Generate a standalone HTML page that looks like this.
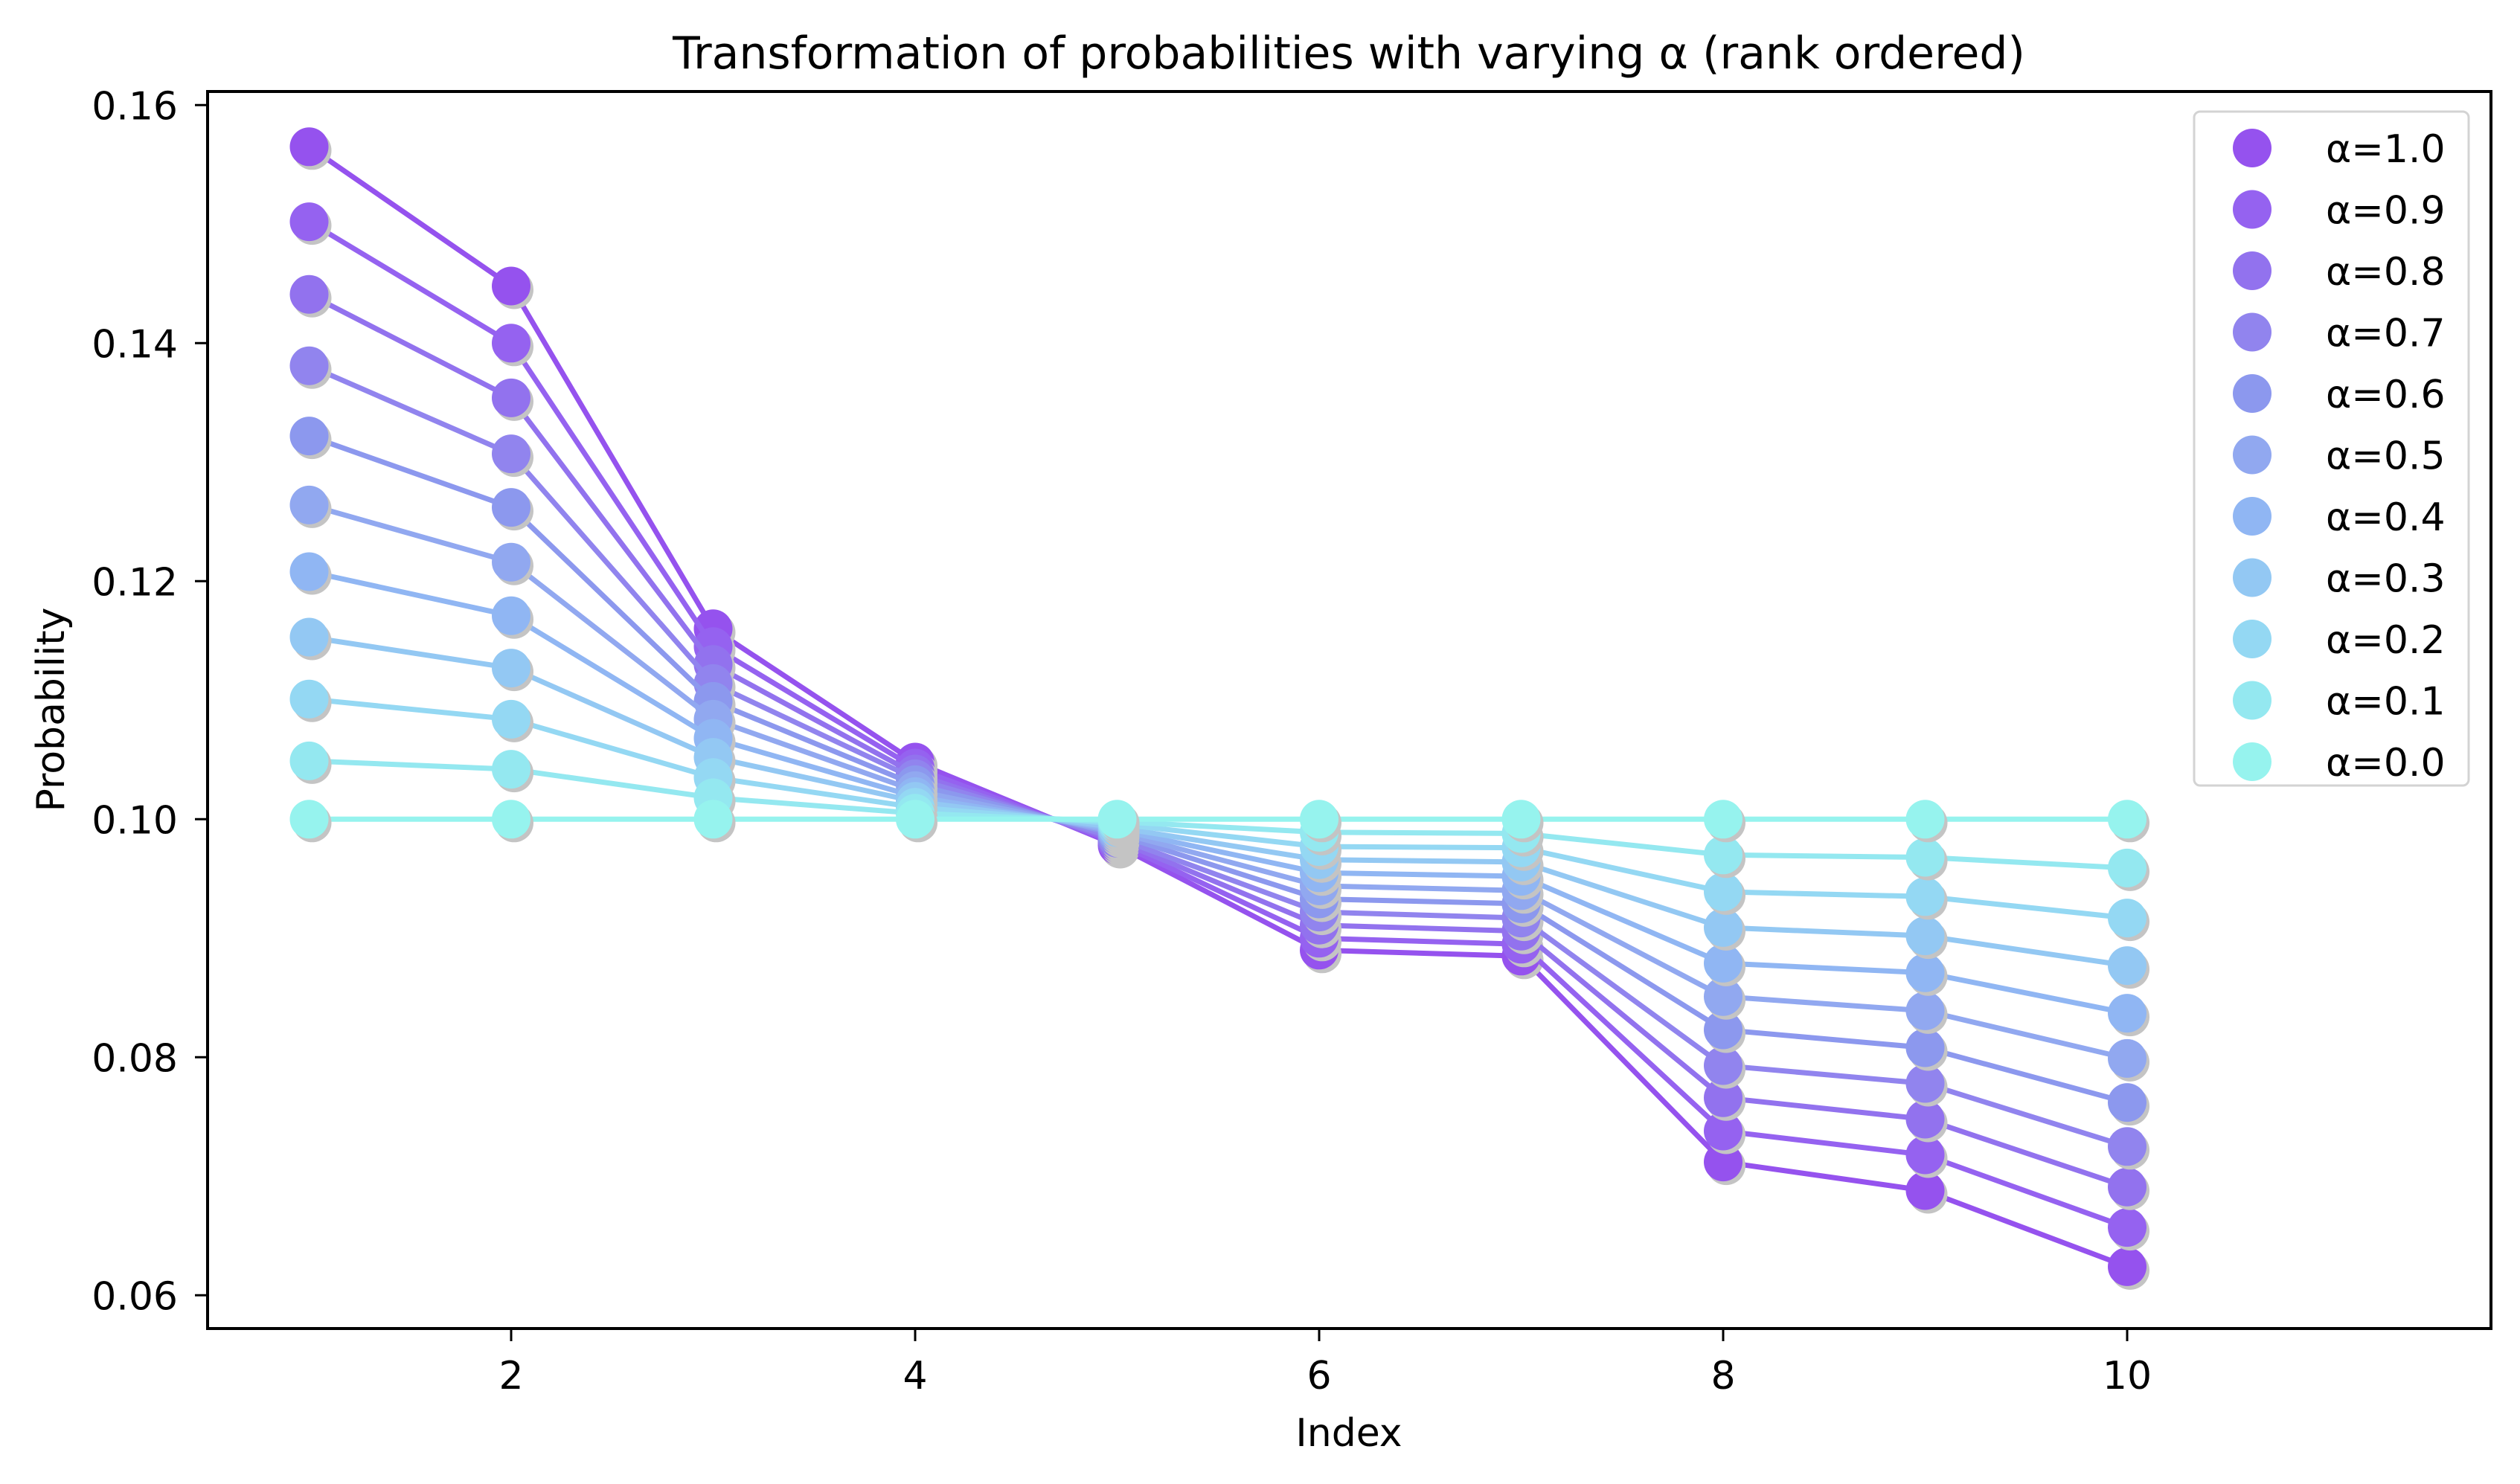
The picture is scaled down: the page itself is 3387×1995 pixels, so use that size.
<!DOCTYPE html>
<html><head><meta charset="utf-8"><style>
html,body{margin:0;padding:0;background:#fff;}
svg{display:block;font-family:"DejaVu Sans","Liberation Sans",sans-serif;}
</style></head><body>
<svg id="chart" width="3387" height="1995" viewBox="0 0 3387 1995" xmlns="http://www.w3.org/2000/svg">
<rect x="0" y="0" width="3387" height="1995" fill="#fff"/>
<text x="1813" y="92" font-size="60" text-anchor="middle">Transformation of probabilities with varying α (rank ordered)</text>
<g id="plot"></g>
<rect x="279" y="123" width="3069" height="1663" fill="none" stroke="#000" stroke-width="4"/>
<g id="axes"></g>
<text x="1813" y="1944" font-size="52" text-anchor="middle">Index</text>
<text x="0" y="0" font-size="52" text-anchor="middle" transform="translate(86,954) rotate(-90)">Probability</text>
<g id="legend"></g>
</svg>
<script>
const indices = [1,2,3,4,5,6,7,8,9,10];
const alphas = ["1.0","0.9","0.8","0.7","0.6","0.5","0.4","0.3","0.2","0.1","0.0"];
const s10 = [0.1565,0.1448,0.1160,0.1048,0.0978,0.0890,0.0885,0.0712,0.0688,0.0624];
const s09 = [0.1502,0.1400,0.1145,0.1043,0.0980,0.0900,0.0895,0.0738,0.0718,0.0657];
const s08 = [0.1441,0.1354,0.1130,0.1038,0.0982,0.0911,0.0906,0.0766,0.0748,0.0691];
const s07 = [0.1381,0.1307,0.1114,0.1034,0.0984,0.0922,0.0917,0.0793,0.0778,0.0725];
const s06 = [0.1322,0.1262,0.1099,0.1029,0.0987,0.0933,0.0929,0.0823,0.0808,0.0762];
const s05 = [0.1264,0.1216,0.1084,0.1024,0.0989,0.0944,0.0940,0.0851,0.0839,0.0799];
const s04 = [0.1208,0.1171,0.1068,0.1019,0.0991,0.0955,0.0952,0.0879,0.0871,0.0837];
const s03 = [0.1153,0.1127,0.1052,0.1015,0.0993,0.0966,0.0964,0.0909,0.0902,0.0877];
const s02 = [0.1101,0.1084,0.1035,0.1010,0.0996,0.0977,0.0976,0.0939,0.0935,0.0917];
const s01 = [0.1049,0.1042,0.1018,0.1005,0.0998,0.0989,0.0988,0.0970,0.0968,0.0959];
const s00 = [0.1000,0.1000,0.1000,0.1000,0.1000,0.1000,0.1000,0.1000,0.1000,0.1000];
const series = [s10,s09,s08,s07,s06,s05,s04,s03,s02,s01,s00];
const colors = ["#9552ee","#9562f0","#9272ee","#9184ee","#8c98ee","#91a8f0","#90b6f3","#93c8f3","#94d8f3","#94e8f0","#96f3ee"];
const xTicks = [2,4,6,8,10];
const yTicks = [0.06,0.08,0.10,0.12,0.14,0.16];
const yTickLabels = ["0.06","0.08","0.10","0.12","0.14","0.16"];

function xs(v){ return 687 + (v-2)*271.5; }
function ys(v){ return 141.3 + (0.16-v)*16000; }
const NS="http://www.w3.org/2000/svg";
function mk(tag, attrs, parent){ const e=document.createElementNS(NS,tag); for(const k in attrs) e.setAttribute(k,attrs[k]); parent.appendChild(e); return e; }

const plot=document.getElementById('plot');
series.forEach((s,si)=>{
  const g=mk('g',{},plot);
  
  
  const pts=s.map((v,i)=>xs(indices[i])+','+ys(v)).join(' ');
  const line=mk('polyline',{points:pts,fill:'none',stroke:colors[si],'stroke-width':7},g);
  
  
  s.forEach((v,i)=>{
    const sh=mk('circle',{cx:xs(indices[i])+4,cy:ys(v)+5,r:26,fill:'#c4c4c4'},g);
    
    
    const c=mk('circle',{cx:xs(indices[i]),cy:ys(v),r:26,fill:colors[si]},g);
    
    
  });
});

const axes=document.getElementById('axes');
xTicks.forEach(t=>{
  const l=mk('line',{x1:xs(t),x2:xs(t),y1:1786,y2:1803,stroke:'#000','stroke-width':3},axes);
  
  
  const tx=mk('text',{x:xs(t),y:1867,'font-size':52,'text-anchor':'middle'},axes);
  
  
  tx.textContent=String(t);
});
yTicks.forEach((t,i)=>{
  const l=mk('line',{x1:262,x2:279,y1:ys(t),y2:ys(t),stroke:'#000','stroke-width':3},axes);
  
  
  const tx=mk('text',{x:239,y:ys(t)+19,'font-size':52,'text-anchor':'end'},axes);
  
  
  tx.textContent=yTickLabels[i];
});

const leg=document.getElementById('legend');
const box=mk('rect',{x:2949,y:150,width:369,height:906,rx:8,fill:'#fff','fill-opacity':0.8,stroke:'#d3d3d3','stroke-width':3},leg);


alphas.forEach((a,i)=>{
  const cy=199+i*82.5;
  const g=mk('g',{},leg);
  
  
  mk('circle',{cx:3027,cy:cy,r:26,fill:colors[i]},g);
  const t=mk('text',{x:3126,y:cy+19,'font-size':52},g);
  t.textContent='α='+a;
});
</script>
</body></html>
